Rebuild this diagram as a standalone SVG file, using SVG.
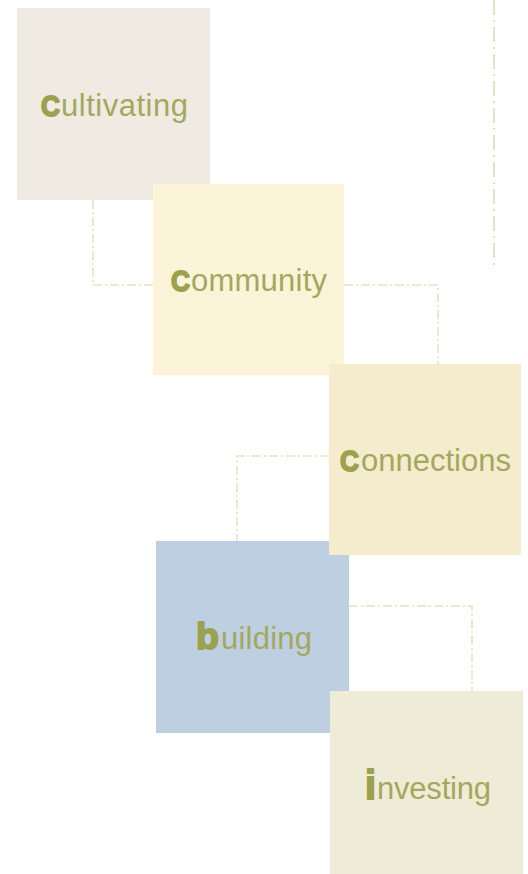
<svg xmlns="http://www.w3.org/2000/svg" width="528" height="874" viewBox="0 0 528 874">
<style>
.conn{fill:none;stroke:#e1e4c6;stroke-width:1.6;stroke-dasharray:9 3 2 3}
.vline{fill:none;stroke:#e1e4c6;stroke-width:2;stroke-dasharray:15 5 2 5}
.cap{font-family:"Liberation Sans",Arial,sans-serif;font-weight:bold;fill:#9ca150;stroke:#9ca150;stroke-width:1.8;stroke-linejoin:round}
.rest{font-family:"Liberation Sans",Arial,sans-serif;font-size:31px;fill:#a3a85d}
</style>
<rect width="528" height="874" fill="#ffffff"/>
<g id="connectors">
<polyline class="conn" points="93,200 93,285 153,285"/>
<polyline class="conn" points="344,285 438,285 438,364"/>
<line class="vline" x1="494" y1="0" x2="494" y2="267"/>
<polyline class="conn" points="329,456 237,456 237,541"/>
<polyline class="conn" points="349,606 472,606 472,691"/>
</g>
<g id="cultivating">
<rect x="17" y="8" width="193" height="192" fill="#efebe3"/>
<text class="cap" x="41" y="116" font-size="30" textLength="19" lengthAdjust="spacingAndGlyphs">C</text>
<text class="rest" x="61" y="116" textLength="127" lengthAdjust="spacing">ultivating</text>
</g>
<g id="community">
<rect x="153" y="184" width="191" height="191" fill="#fbf4d9"/>
<text class="cap" x="171" y="291" font-size="30" textLength="19" lengthAdjust="spacingAndGlyphs">C</text>
<text class="rest" x="191" y="291" textLength="136" lengthAdjust="spacing">ommunity</text>
</g>
<g id="building">
<rect x="156" y="541" width="193" height="192" fill="#bfcfe2"/>
<text class="cap" x="196" y="649" font-size="37" textLength="23" lengthAdjust="spacingAndGlyphs">b</text>
<text class="rest" x="221" y="649" textLength="91" lengthAdjust="spacing">uilding</text>
</g>
<g id="connections">
<rect x="329" y="364" width="192" height="191" fill="#f5ecce"/>
<text class="cap" x="340" y="471" font-size="30" textLength="19" lengthAdjust="spacingAndGlyphs">C</text>
<text class="rest" x="361" y="471" textLength="150" lengthAdjust="spacing">onnections</text>
</g>
<g id="investing">
<rect x="330" y="691" width="193" height="183" fill="#eeecd7"/>
<text class="cap" x="365" y="799" font-size="40" textLength="11" lengthAdjust="spacingAndGlyphs">i</text>
<text class="rest" x="377" y="799" textLength="114" lengthAdjust="spacing">nvesting</text>
</g>
</svg>
